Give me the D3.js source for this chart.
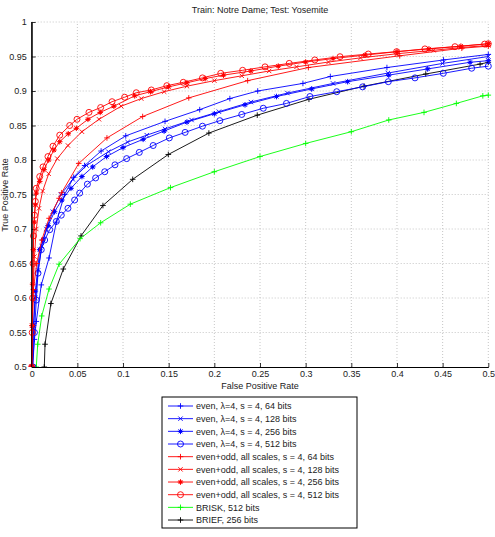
<!DOCTYPE html>
<html>
<head>
<meta charset="utf-8">
<script src="https://cdnjs.cloudflare.com/ajax/libs/d3/7.8.5/d3.min.js"></script>
<style>
  body { margin: 0; background: #fff; }
  svg { font-family: "Liberation Sans", Arial, sans-serif; }
  .grid line { stroke: #b8b8b8; stroke-width: 0.8; stroke-dasharray: 1, 2; }
  .tick text { font-size: 9px; fill: #222; }
</style>
</head>
<body>
<svg width="495" height="537"></svg>
<script>
// [false positive rate, true positive rate]
const even64 = [[0.0005,0.5],[0.003,0.54],[0.005,0.566],[0.0105,0.619],[0.019,0.658],[0.027,0.71],[0.036,0.75],[0.046,0.775],[0.058,0.792],[0.076,0.813],[0.103,0.835],[0.146,0.856],[0.184,0.873],[0.217,0.889],[0.2475,0.9],[0.297,0.911],[0.327,0.921],[0.389,0.934],[0.451,0.945],[0.5,0.953]];
const even128 = [[0.0005,0.5],[0.002,0.56],[0.004,0.6],[0.007,0.64],[0.011,0.675],[0.016,0.7],[0.023,0.725],[0.032,0.75],[0.045,0.772],[0.06,0.792],[0.084,0.812],[0.105,0.826],[0.126,0.836],[0.146,0.845],[0.175,0.858],[0.205,0.87],[0.24,0.884],[0.28,0.897],[0.33,0.911],[0.39,0.926],[0.45,0.94],[0.5,0.95]];
const even256 = [[0.0005,0.5],[0.002,0.56],[0.004,0.61],[0.0088,0.67],[0.0124,0.684],[0.018,0.705],[0.025,0.725],[0.033,0.742],[0.043,0.759],[0.055,0.776],[0.0668,0.79],[0.082,0.805],[0.1,0.818],[0.122,0.83],[0.145,0.842],[0.17,0.855],[0.2,0.867],[0.2336,0.88],[0.268,0.892],[0.3066,0.903],[0.346,0.9135],[0.391,0.923],[0.4336,0.932],[0.48,0.9416],[0.5,0.944]];
const even512 = [[0.0014,0.5],[0.003,0.55],[0.005,0.597],[0.0069,0.636],[0.0105,0.67],[0.0142,0.684],[0.0197,0.699],[0.027,0.711],[0.0324,0.72],[0.0397,0.73],[0.047,0.742],[0.0525,0.752],[0.061,0.765],[0.07,0.774],[0.08,0.783],[0.0912,0.793],[0.104,0.802],[0.1178,0.811],[0.133,0.821],[0.1507,0.832],[0.168,0.84],[0.187,0.849],[0.206,0.857],[0.23,0.866],[0.2536,0.875],[0.279,0.882],[0.3047,0.892],[0.334,0.899],[0.3624,0.906],[0.3905,0.9135],[0.4197,0.919],[0.4507,0.9256],[0.4818,0.933],[0.5,0.936]];
const all64 = [[0,0.5],[0.0008,0.56],[0.0018,0.612],[0.0055,0.65],[0.011,0.684],[0.019,0.7155],[0.03,0.7445],[0.0328,0.7526],[0.0515,0.795],[0.0824,0.832],[0.1215,0.863],[0.172,0.89],[0.2365,0.915],[0.303,0.934],[0.403,0.951],[0.471,0.962],[0.5,0.965]];
const all128 = [[0,0.5],[0.0007,0.56],[0.0015,0.61],[0.003,0.66],[0.005,0.7],[0.008,0.73],[0.012,0.755],[0.0186,0.78],[0.028,0.802],[0.0397,0.821],[0.055,0.841],[0.0737,0.859],[0.098,0.878],[0.12,0.889],[0.145,0.899],[0.17,0.907],[0.2,0.915],[0.23,0.922],[0.26,0.929],[0.29,0.935],[0.325,0.942],[0.36,0.948],[0.4,0.954],[0.44,0.959],[0.47,0.963],[0.5,0.966]];
const all256 = [[0,0.5],[0.0005,0.56],[0.001,0.62],[0.0018,0.67],[0.0028,0.71],[0.004,0.735],[0.005,0.752],[0.0088,0.769],[0.0135,0.786],[0.0186,0.8],[0.0244,0.8145],[0.0307,0.8265],[0.04,0.838],[0.0489,0.846],[0.0616,0.859],[0.075,0.869],[0.09,0.878],[0.1128,0.893],[0.13,0.899],[0.15,0.906],[0.17,0.912],[0.19,0.918],[0.21,0.923],[0.24,0.929],[0.27,0.936],[0.3,0.942],[0.33,0.947],[0.365,0.952],[0.4,0.957],[0.435,0.961],[0.47,0.965],[0.5,0.9685]];
const all512 = [[0,0.5],[0.0005,0.55],[0.001,0.6],[0.0015,0.65],[0.002,0.69],[0.003,0.72],[0.004,0.74],[0.005,0.759],[0.0088,0.776],[0.0124,0.79],[0.0178,0.805],[0.0233,0.82],[0.0307,0.836],[0.0416,0.85],[0.0496,0.859],[0.0627,0.869],[0.0755,0.876],[0.088,0.8845],[0.1018,0.891],[0.1145,0.8975],[0.131,0.9015],[0.148,0.9077],[0.166,0.9126],[0.187,0.919],[0.207,0.9256],[0.231,0.93],[0.2555,0.935],[0.282,0.94],[0.31,0.945],[0.3376,0.9497],[0.3686,0.9536],[0.3996,0.957],[0.4306,0.961],[0.4635,0.9642],[0.496,0.968],[0.5,0.9685]];
const brisk = [[0.005,0.5],[0.0066,0.533],[0.011,0.574],[0.019,0.613],[0.03,0.649],[0.053,0.686],[0.0755,0.709],[0.108,0.736],[0.152,0.76],[0.2,0.783],[0.25,0.805],[0.3,0.824],[0.35,0.841],[0.391,0.858],[0.4296,0.869],[0.465,0.882],[0.494,0.893],[0.5,0.894]];
const brief = [[0.0138,0.5],[0.0146,0.533],[0.021,0.592],[0.0346,0.642],[0.054,0.69],[0.078,0.734],[0.1106,0.772],[0.1496,0.808],[0.194,0.839],[0.247,0.865],[0.3036,0.888],[0.364,0.907],[0.4315,0.9246],[0.491,0.939],[0.5,0.9416]];

const seriesData = [even64, even128, even256, even512, all64, all128, all256, all512, brisk, brief];
const seriesNames = [
  "even, \u03bb=4, s = 4, 64 bits",
  "even, \u03bb=4, s = 4, 128 bits",
  "even, \u03bb=4, s = 4, 256 bits",
  "even, \u03bb=4, s = 4, 512 bits",
  "even+odd, all scales, s = 4, 64 bits",
  "even+odd, all scales, s = 4, 128 bits",
  "even+odd, all scales, s = 4, 256 bits",
  "even+odd, all scales, s = 4, 512 bits",
  "BRISK, 512 bits",
  "BRIEF, 256 bits"
];
const seriesColors = ["#0000ff", "#0000ff", "#0000ff", "#0000ff", "#ff0000", "#ff0000", "#ff0000", "#ff0000", "#00ff00", "#000000"];
const seriesMarkers = ["plus", "cross", "star", "circle", "plus", "cross", "star", "circle", "plus", "plus"];

const xTicks = [0, 0.05, 0.1, 0.15, 0.2, 0.25, 0.3, 0.35, 0.4, 0.45, 0.5];
const yTicks = [0.5, 0.55, 0.6, 0.65, 0.7, 0.75, 0.8, 0.85, 0.9, 0.95, 1];

const svg = d3.select("svg");

const x = d3.scaleLinear().domain([0, 0.5]).range([31.7, 488.3]);
const y = d3.scaleLinear().domain([0.5, 1]).range([367, 22]);

svg.append("rect").attr("width", 495).attr("height", 537).attr("fill", "#fff");

// grid
const grid = svg.append("g").attr("class", "grid");
grid.selectAll("line.gx")
  .data(xTicks.slice(1))
  .enter()
  .append("line")
  .attr("x1", d => x(d)).attr("x2", d => x(d))
  .attr("y1", y(0.5)).attr("y2", y(1));
grid.selectAll("line.gy")
  .data(yTicks.slice(1))
  .enter()
  .append("line")
  .attr("class", "gy")
  .attr("x1", x(0)).attr("x2", x(0.5))
  .attr("y1", d => y(d)).attr("y2", d => y(d));

// axes, ticks inward
const xAxis = svg.append("g")
  .attr("transform", `translate(0,${y(0.5)})`)
  .call(d3.axisBottom(x).tickValues(xTicks).tickSizeInner(-4).tickSizeOuter(0).tickPadding(4).tickFormat(d3.format("~g")));
const yAxis = svg.append("g")
  .attr("transform", `translate(${x(0)},0)`)
  .call(d3.axisLeft(y).tickValues(yTicks).tickSizeInner(-4).tickSizeOuter(0).tickPadding(5).tickFormat(d3.format("~g")));
[xAxis, yAxis].forEach(a => {
  a.select(".domain").attr("stroke", "#000").attr("stroke-width", 1);
  a.selectAll(".tick line").attr("stroke", "#000").attr("stroke-width", 0.8);
});

svg.append("defs").append("clipPath").attr("id", "plot")
  .append("rect").attr("x", x(0) - 4).attr("y", y(1) - 4)
  .attr("width", x(0.5) - x(0) + 8).attr("height", y(0.5) - y(1) + 4);

function drawMarker(g, type, color, cx, cy) {
  if (type === "plus") {
    g.append("path").attr("d", `M${cx - 2.8},${cy}H${cx + 2.8}M${cx},${cy - 2.8}V${cy + 2.8}`)
      .attr("stroke", color).attr("stroke-width", 0.9).attr("fill", "none");
  } else if (type === "cross") {
    g.append("path").attr("d", `M${cx - 2.2},${cy - 2.2}L${cx + 2.2},${cy + 2.2}M${cx - 2.2},${cy + 2.2}L${cx + 2.2},${cy - 2.2}`)
      .attr("stroke", color).attr("stroke-width", 0.9).attr("fill", "none");
  } else if (type === "star") {
    g.append("path").attr("d", `M${cx - 2.8},${cy}H${cx + 2.8}M${cx},${cy - 2.8}V${cy + 2.8}M${cx - 2},${cy - 2}L${cx + 2},${cy + 2}M${cx - 2},${cy + 2}L${cx + 2},${cy - 2}`)
      .attr("stroke", color).attr("stroke-width", 1).attr("fill", "none");
    g.append("circle").attr("cx", cx).attr("cy", cy).attr("r", 1.5).attr("fill", color);
  } else {
    g.append("circle").attr("cx", cx).attr("cy", cy).attr("r", 3)
      .attr("stroke", color).attr("stroke-width", 0.9).attr("fill", "none");
  }
}

const line = d3.line()
  .x(d => x(d[0]))
  .y(d => y(d[1]));

const plot = svg.append("g").attr("clip-path", "url(#plot)");

// draw from back to front: black, green, blue, red
const order = [9, 8, 3, 2, 1, 0, 4, 5, 6, 7];
order.forEach(i => {
  const g = plot.append("g");
  g.append("path")
    .datum(seriesData[i])
    .attr("d", line)
    .attr("fill", "none")
    .attr("stroke", seriesColors[i])
    .attr("stroke-width", 0.9);
  seriesData[i].forEach(d => drawMarker(g, seriesMarkers[i], seriesColors[i], x(d[0]), y(d[1])));
});

// redraw left axis line on top
svg.append("line")
  .attr("x1", x(0)).attr("x2", x(0))
  .attr("y1", y(0.5)).attr("y2", y(1))
  .attr("stroke", "#000").attr("stroke-width", 1);

svg.append("text")
  .attr("x", 260).attr("y", 13)
  .attr("text-anchor", "middle")
  .attr("font-size", 9)
  .attr("fill", "#222")
  .text("Train: Notre Dame; Test: Yosemite");

svg.append("text")
  .attr("x", 260).attr("y", 389)
  .attr("text-anchor", "middle")
  .attr("font-size", 9)
  .attr("fill", "#222")
  .text("False Positive Rate");

svg.append("text")
  .attr("transform", `translate(8,195) rotate(-90)`)
  .attr("text-anchor", "middle")
  .attr("font-size", 9)
  .attr("fill", "#222")
  .text("True Positive Rate");

// legend
const legend = svg.append("g");
legend.append("rect")
  .attr("x", 162).attr("y", 397)
  .attr("width", 195).attr("height", 131)
  .attr("fill", "#fff").attr("stroke", "#000").attr("stroke-width", 1);

const rows = legend.selectAll("g.row")
  .data(seriesNames)
  .enter()
  .append("g")
  .attr("class", "row")
  .attr("transform", (d, i) => `translate(0, ${406 + i * 12.67})`);

rows.append("line")
  .attr("x1", 168).attr("x2", 193)
  .attr("y1", 0).attr("y2", 0)
  .attr("stroke", (d, i) => seriesColors[i])
  .attr("stroke-width", 0.9);

rows.each(function(d, i) {
  drawMarker(d3.select(this), seriesMarkers[i], seriesColors[i], 180.5, 0);
});

rows.append("text")
  .attr("x", 196).attr("y", 3.2)
  .attr("font-size", 9)
  .attr("fill", "#222")
  .text(d => d);
</script>
</body>
</html>
